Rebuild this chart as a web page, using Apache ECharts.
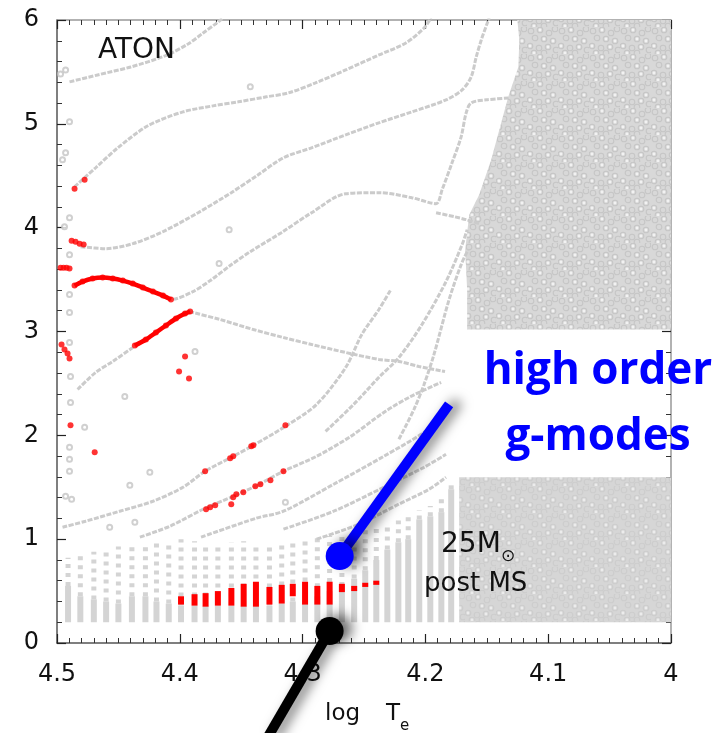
<!DOCTYPE html>
<html><head><meta charset="utf-8">
<script src="https://cdn.jsdelivr.net/npm/echarts/dist/echarts.min.js"></script>
<style>html,body{margin:0;padding:0;background:#fff}#c{width:716px;height:733px}</style>
</head><body><div id="c"></div>
<script>
// ---------- data (log Te, value) ----------
const xTickStep = 0.1;
const yTickStep = 1;

const curve1 = [[4.4898,5.404],[4.4669,5.471],[4.4399,5.548],[4.4121,5.654],[4.3933,5.769],[4.3810,5.875],[4.3688,5.981],[4.3650,6.02]];
const curve2 = [[4.4857,4.394],[4.4685,4.577],[4.4505,4.769],[4.4260,4.981],[4.3974,5.115],[4.3729,5.173],[4.3524,5.212],[4.3295,5.260],[4.3115,5.298],[4.2895,5.394],[4.2649,5.519],[4.2379,5.663],[4.2159,5.779],[4.2011,5.923],[4.1954,6.02]];
const curve3 = [[4.4808,3.817],[4.4603,3.798],[4.4383,3.846],[4.4137,3.962],[4.3851,4.144],[4.3581,4.337],[4.3361,4.510],[4.3156,4.673],[4.2927,4.769],[4.2649,4.894],[4.2379,5.010],[4.2110,5.115],[4.1832,5.231],[4.1701,5.327],[4.1627,5.452],[4.1586,5.644],[4.1545,5.808],[4.1496,5.971],[4.1480,6.02]];
const curve4 = [[4.3892,3.385],[4.3753,3.490],[4.3590,3.635],[4.3426,3.769],[4.3173,3.952],[4.2927,4.144],[4.2649,4.327],[4.2379,4.337],[4.2110,4.288],[4.1913,4.231],[4.1864,4.365],[4.1783,4.625],[4.1709,4.875],[4.1668,5.106],[4.1627,5.202],[4.1504,5.231],[4.1316,5.250]];
const curve4b = [[4.1913,4.144],[4.1766,4.106],[4.1668,4.077],[4.1562,4.038]];
const curve5Left = [[4.4832,2.442],[4.4685,2.606],[4.4546,2.712],[4.4383,2.846]];
const curve5Right = [[4.3892,3.183],[4.3671,3.115],[4.3401,3.019],[4.3156,2.942],[4.2927,2.875],[4.2649,2.798],[4.2379,2.731],[4.2216,2.712],[4.2052,2.663],[4.1840,2.615]];
const curveR1 = [[4.4955,1.115],[4.4767,1.173],[4.4489,1.269],[4.4219,1.365],[4.3974,1.500],[4.3794,1.654],[4.3565,1.798],[4.3401,1.904],[4.3140,2.087],[4.2886,2.298],[4.2649,2.654],[4.2518,2.971],[4.2379,3.212],[4.2281,3.404]];
const curveR2 = [[4.4325,1.019],[4.4080,1.125],[4.3810,1.288],[4.3565,1.413],[4.3385,1.510],[4.3156,1.654],[4.2886,1.798],[4.2608,1.990],[4.2339,2.221],[4.2118,2.375],[4.1872,2.510]];
const curveR3 = [[4.3827,1.019],[4.3377,1.202],[4.3156,1.269],[4.2747,1.529],[4.2339,1.798],[4.2011,2.029],[4.1832,2.202]];
const curveR4 = [[4.3156,1.096],[4.2747,1.269],[4.2339,1.500],[4.2011,1.692],[4.1832,1.817]];
const curveR5 = [[4.2886,1.000],[4.2543,1.144],[4.2216,1.337],[4.1970,1.481],[4.1832,1.596]];
const curveB = [[4.2813,2.038],[4.2584,2.298],[4.2379,2.558],[4.2216,2.750],[4.2028,3.067],[4.1832,3.481],[4.1701,3.837],[4.1660,3.981]];
const curveC = [[4.2216,1.962],[4.2093,2.250],[4.2011,2.490],[4.1930,2.779],[4.1807,3.308],[4.1709,3.644],[4.1652,3.788]];

const grayPoints = [[4.4971,5.481],[4.4930,5.519],[4.4898,5.019],[4.4930,4.721],[4.4955,4.654],[4.4898,4.096],[4.4939,4.010],[4.4898,3.740],[4.4898,3.356],[4.4898,3.183],[4.4898,2.894],[4.4890,2.567],[4.4890,2.317],[4.4898,1.885],[4.4898,1.769],[4.4898,1.654],[4.4930,1.413],[4.4881,1.385],[4.3426,5.356],[4.3598,3.981],[4.3680,3.654],[4.3876,2.808],[4.4448,2.375],[4.4244,1.644],[4.4407,1.519],[4.4571,1.115],[4.4366,1.163],[4.3140,1.356],[4.4775,2.077]];

// dense post-MS cloud (left boundary, then right edge)
const cloudOutline = [[4.1251,6.0],[4.1235,5.808],[4.1243,5.548],[4.1325,5.260],[4.1398,4.942],[4.1464,4.654],[4.1562,4.317],[4.1643,4.125],[4.1676,3.788],[4.1660,3.404],[4.1660,3.019],[4.0,3.019],[4.0,6.0]];
const blockOutline = [[4.1725,0.2],[4.1725,1.596],[4.0,1.596],[4.0,0.2]];

// low-order mode columns
const columnBase = 0.2;
const columnT = [4.491,4.481,4.470,4.460,4.450,4.439,4.428,4.419,4.409,4.399,4.388,4.379,4.369,4.358,4.348,4.338,4.327,4.317,4.308,4.298,4.288,4.278,4.268,4.258,4.249,4.240,4.231,4.222,4.214,4.205,4.196,4.187,4.179];
const columnSolidTop = [0.55,0.45,0.42,0.40,0.38,0.45,0.45,0.40,0.38,0.36,0.36,0.36,0.36,0.36,0.36,0.36,0.36,0.38,0.40,0.42,0.45,0.50,0.55,0.62,0.70,0.80,0.90,0.97,1.00,1.19,1.22,1.26,1.48];
const columnSparseTop = [0.82,0.84,0.88,0.90,0.93,0.95,0.97,0.98,0.95,1.00,0.98,0.95,0.95,0.97,0.98,0.96,0.95,0.96,0.98,1.00,1.02,1.03,1.05,1.08,1.10,1.12,1.15,1.18,1.22,1.28,1.32,1.40,1.52];

// red (unstable) modes
const redColumnT = [4.399,4.388,4.379,4.369,4.358,4.348,4.338,4.327,4.317,4.308,4.298,4.288,4.278,4.268,4.258,4.249,4.240];
const redColumnLow = [0.37,0.36,0.35,0.36,0.36,0.35,0.35,0.37,0.38,0.45,0.37,0.37,0.37,0.49,0.50,0.54,0.56];
const redColumnHigh = [0.45,0.47,0.48,0.50,0.53,0.57,0.59,0.54,0.56,0.57,0.59,0.55,0.59,0.57,0.55,0.58,0.60];
const redArc1 = [[4.4857,3.442],[4.4792,3.481],[4.4710,3.510],[4.4628,3.519],[4.4546,3.510],[4.4464,3.490],[4.4383,3.462],[4.4301,3.423],[4.4219,3.385],[4.4137,3.346],[4.4072,3.308]];
const redArc2 = [[4.4366,2.865],[4.4276,2.923],[4.4195,2.990],[4.4113,3.058],[4.4031,3.125],[4.3957,3.173],[4.3916,3.192]];
const redLeft = [[4.4857,4.375],[4.4775,4.462],[4.4881,3.875],[4.4849,3.865],[4.4816,3.846],[4.4783,3.837],[4.4971,3.615],[4.4947,3.615],[4.4922,3.615],[4.4898,3.606],[4.4963,2.875],[4.4939,2.827],[4.4914,2.788],[4.4898,2.740],[4.4890,2.096],[4.4693,1.837]];
const redMid = [[4.3957,2.760],[4.4006,2.615],[4.3925,2.548]];
const redUpper = [[4.3794,1.654],[4.3590,1.779],[4.3565,1.798],[4.3418,1.894],[4.3401,1.904],[4.3140,2.096]];
const redLower = [[4.3786,1.288],[4.3753,1.308],[4.3712,1.327],[4.3581,1.337],[4.3565,1.404],[4.3540,1.433],[4.3483,1.452],[4.3385,1.510],[4.3344,1.529],[4.3262,1.567],[4.3156,1.654]];

// annotation pointers (data coordinates)
const bluePointer = [[4.2698,0.837],[4.1807,2.298]];
const blackPointer = [[4.2780,0.115],[4.3300,-0.94]];

// ---------- chart ----------
const chart = echarts.init(document.getElementById('c'));
const FONT = 'DejaVu Sans';

// mottled texture for the dense cloud of modes (style only)
function makeTexture(bg, ring, hole) {
  const c = document.createElement('canvas');
  c.width = 31; c.height = 27;
  const g = c.getContext('2d');
  g.fillStyle = bg; g.fillRect(0, 0, c.width, c.height);
  const rings = [[4,4],[13,3],[22,6],[28,2],[8,11],[17,12],[26,14],[3,19],[12,21],[21,20],[29,23],[7,26],[17,26]];
  g.lineWidth = 1.1; g.strokeStyle = ring;
  rings.forEach(([x,y]) => { g.beginPath(); g.arc(x, y, 2.8, 0, Math.PI*2); g.stroke(); });
  g.fillStyle = hole;
  [[13,3],[17,12],[3,19],[21,20],[7,26],[26,14]].forEach(([x,y]) => { g.beginPath(); g.arc(x, y, 1.4, 0, Math.PI*2); g.fill(); });
  return c;
}
const cloudFill = {image: makeTexture('#d8d8d8', '#c6c6c6', '#f2f2f2'), repeat:'repeat'};
const blockFill = {image: makeTexture('#d6d6d6', '#cdcdcd', '#ececec'), repeat:'repeat'};

function axisX(pos, main) {
  return {
    type:'value', min:4.0, max:4.5, interval:xTickStep, inverse:true, position:pos,
    axisLine:{onZero:false, lineStyle:{color: main ? '#555' : '#999', width:1.5}},
    axisTick:{inside:true, length:9, lineStyle:{color:'#222', width:1.2}},
    minorTick:{show:true, splitNumber:10, length:5, lineStyle:{color:'#333'}},
    splitLine:{show:false}, minorSplitLine:{show:false},
    axisLabel:{show:main, margin:20, fontSize:24, fontFamily:FONT, color:'#111'}
  };
}
function axisY(pos, main) {
  return {
    type:'value', min:0, max:6, interval:yTickStep, position:pos,
    axisLine:{show:true, onZero:false, lineStyle:{color: main ? '#555' : '#999', width:1.5}},
    axisTick:{show:true, inside:true, length:9, lineStyle:{color:'#222', width:1.2}},
    minorTick:{show:true, splitNumber:5, length:5, lineStyle:{color:'#333'}},
    splitLine:{show:false},
    axisLabel:{show:main, margin:18, fontSize:24, fontFamily:FONT, color:'#111'}
  };
}

const grayLine = (data) => ({type:'line', data, smooth:0.3, symbol:'none', silent:true,
  lineStyle:{color:'#cbcbcb', width:3, type:[5,1.5]}, z:3});
const redLine = (data) => ({type:'line', data, smooth:0.3, symbol:'none', silent:true,
  lineStyle:{color:'#ff0000', width:4.5}, z:6});

const polygonSeries = (outline, fill) => ({
  type:'custom', coordinateSystem:'cartesian2d', silent:true, z:1, data:[outline[0]],
  renderItem:(params, api) => ({type:'polygon', shape:{points: outline.map(p => api.coord(p))}, style:{fill}})
});

const columnData = columnT.map((t,i) => [t, columnSolidTop[i], columnSparseTop[i]]);
const redColumnData = redColumnT.map((t,i) => [t, redColumnLow[i], redColumnHigh[i]]);

const option = {
  animation:false,
  backgroundColor:'#fff',
  grid:{left:57, right:45, top:20, bottom:90},
  xAxis:[axisX('bottom', true), axisX('top', false)],
  yAxis:[axisY('left', true), axisY('right', false)],
  series:[
    polygonSeries(cloudOutline, cloudFill),
    polygonSeries(blockOutline, blockFill),
    {type:'custom', coordinateSystem:'cartesian2d', silent:true, z:2, data:columnData,
      renderItem:(params, api) => {
        const b = api.coord([api.value(0), columnBase]);
        const s = api.coord([api.value(0), api.value(1)]);
        const t = api.coord([api.value(0), api.value(2)]);
        return {type:'group', children:[
          {type:'rect', shape:{x:b[0]-3, y:s[1], width:6, height:b[1]-s[1]}, style:{fill:'#d4d4d4'}},
          {type:'line', shape:{x1:s[0], y1:s[1], x2:t[0], y2:t[1]}, style:{stroke:'#d4d4d4', lineWidth:5, lineDash:[4,5]}}
        ]};
      }},
    grayLine(curve1), grayLine(curve2), grayLine(curve3),
    grayLine([...redArc1, ...curve4]), grayLine(curve4b),
    grayLine([...curve5Left, ...redArc2, ...curve5Right]),
    grayLine(curveR1), grayLine(curveR2), grayLine(curveR3), grayLine(curveR4), grayLine(curveR5),
    grayLine(curveB), grayLine(curveC),
    {type:'scatter', data:grayPoints, symbol:'emptyCircle', symbolSize:5, silent:true, z:4,
      itemStyle:{color:'#c4c4c4', borderWidth:1}},
    {type:'custom', coordinateSystem:'cartesian2d', silent:true, z:5, data:redColumnData,
      renderItem:(params, api) => {
        const lo = api.coord([api.value(0), api.value(1)]);
        const hi = api.coord([api.value(0), api.value(2)]);
        return {type:'rect', shape:{x:lo[0]-3, y:hi[1], width:6, height:lo[1]-hi[1]}, style:{fill:'#ff0000'}};
      }},
    redLine(redArc1), redLine(redArc2),
    {type:'scatter', data:[...redArc1, ...redArc2, ...redLeft, ...redMid, ...redUpper, ...redLower],
      symbol:'circle', symbolSize:6, silent:true, z:7, itemStyle:{color:'#ff0000'}}
  ]
};
chart.setOption(option);

const px = p => chart.convertToPixel({xAxisIndex:0, yAxisIndex:0}, p);
const b0 = px(bluePointer[0]), b1 = px(bluePointer[1]);
const k0 = px(blackPointer[0]), k1 = px(blackPointer[1]);
const shadow = {shadowBlur:12, shadowColor:'rgba(0,0,0,0.5)', shadowOffsetX:9, shadowOffsetY:-3};

const txt = (text, x, y, size, extra) => Object.assign({type:'text', x, y, z:100,
  style:Object.assign({text, fontSize:size, fontFamily:FONT, fill:'#111',
    verticalAlign:'middle', textVerticalAlign:'middle'}, extra || {})});

chart.setOption({graphic:[
  txt('ATON', 98, 51, 28),
  txt('25M', 441, 545, 28),
  txt('\u2299', 508, 557, 17, {align:'center', textAlign:'center'}),
  txt('post MS', 424, 584, 26),
  txt('log', 325, 714, 23),
  txt('T', 386, 714, 23),
  txt('e', 400, 726, 15),
  txt('high order', 598, 371, 44, {fontFamily:'Open Sans', fontWeight:'bold', fill:'#0000ff', align:'center', textAlign:'center'}),
  txt('g-modes', 598, 437, 44, {fontFamily:'Open Sans', fontWeight:'bold', fill:'#0000ff', align:'center', textAlign:'center'}),
  {type:'line', z:90, shape:{x1:b0[0], y1:b0[1], x2:b1[0], y2:b1[1]}, style:Object.assign({stroke:'#0000ff', lineWidth:10}, shadow)},
  {type:'circle', z:91, shape:{cx:b0[0], cy:b0[1], r:14}, style:Object.assign({fill:'#0000ff'}, shadow)},
  {type:'line', z:90, shape:{x1:k0[0], y1:k0[1], x2:k1[0], y2:k1[1]}, style:Object.assign({stroke:'#000', lineWidth:10}, shadow)},
  {type:'circle', z:91, shape:{cx:k0[0], cy:k0[1], r:14}, style:Object.assign({fill:'#000'}, shadow)}
]});
</script></body></html>
